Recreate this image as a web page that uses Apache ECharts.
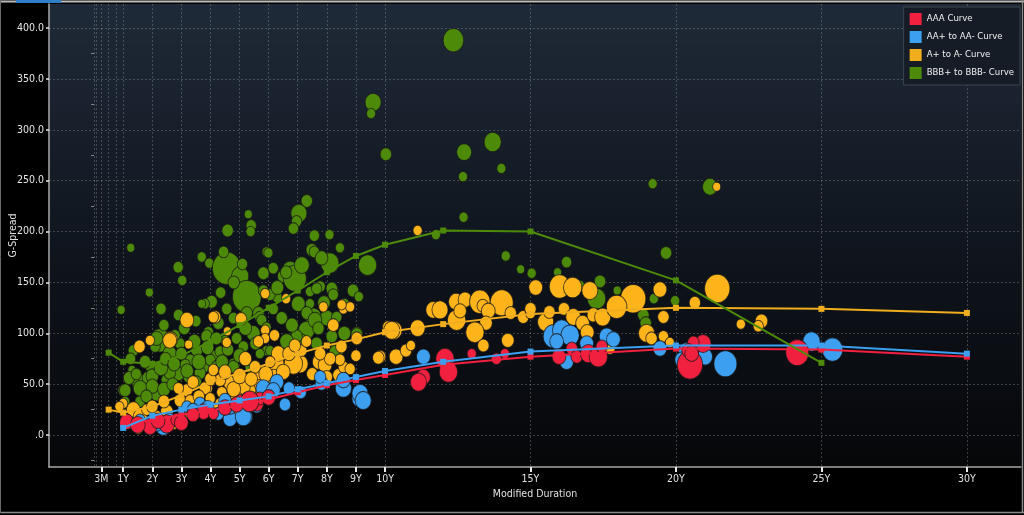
<!DOCTYPE html>
<html>
<head>
<meta charset="utf-8">
<script src="https://cdn.jsdelivr.net/npm/echarts@6/dist/echarts.min.js"></script>
<style>
  html, body { margin: 0; padding: 0; background: #000; }
  #chart { width: 1024px; height: 515px; }
</style>
</head>
<body>
<div id="chart"></div>
<script>
// curve tenors (years of modified duration)
const curveTenorsHi = [1, 2, 3, 4, 5, 6, 7, 8, 9, 10, 12, 15, 20, 25, 30]
const curveTenorsA = [0.5, 1, 2, 3, 4, 5, 6, 7, 8, 9, 10, 12, 15, 20, 25, 30]
const curveTenorsBBB = [0.5, 1, 2, 3, 4, 5, 6, 7, 8, 9, 10, 12, 15, 20, 25]

const aaaCurve = [10, 15, 20, 24, 29, 35, 42, 49, 54, 59, 69, 77, 85, 84, 77]
const aaCurve = [7, 19, 25, 30, 34, 38, 45, 51, 57, 63, 72, 82, 88, 88, 80]
const aCurve = [25, 22, 28, 39, 52, 61, 70, 80, 88, 94, 101, 109, 119, 125, 124, 120]
const bbbCurve = [81, 72, 70, 78, 92, 108, 125, 142, 160, 176, 187, 201, 200, 152, 71]

// bonds: [modified duration, g-spread, bubble weight]
const aaaBonds = [
  [12.06, 75, 16], [12.18, 62, 16], [11.32, 57, 12], [11.15, 52, 14], [12.98, 80, 8], [13.83, 75, 9],
  [14.12, 80, 8], [15.98, 77, 12], [16.42, 85, 10], [16.59, 77, 10], [16.99, 80, 14], [17.33, 77, 16],
  [17.45, 87, 10], [20.48, 69, 22], [20.93, 90, 14], [20.6, 91, 10], [20.42, 83, 11], [24.17, 81, 20],
  [20.54, 80, 12], [1.12, 13, 12], [1.92, 8, 12], [2.5, 11, 14], [2.84, 15, 10], [3.76, 23, 12],
  [4.1, 21, 9], [5.59, 31, 12], [5.7, 36, 10], [5.02, 34, 9],
  [1.5, 10, 13], [2.2, 14, 12], [3.0, 12, 12], [3.4, 20, 11], [4.5, 27, 12], [4.9, 30, 12],
  [5.35, 33, 16], [6.0, 37, 12]
]
const aaBonds = [
  [9.14, 36, 14], [8.57, 46, 14], [7.82, 51, 11], [6.56, 30, 10], [6.28, 52, 12], [5.82, 46, 13],
  [5.19, 18, 13], [4.67, 16, 12], [4.67, 28, 12], [4.27, 21, 10], [3.64, 31, 10], [3.19, 28, 9],
  [2.38, 8, 13], [2.15, 10, 10], [1.58, 15, 9], [1.3, 12, 9], [5.3, 31, 10], [6.05, 38, 10],
  [5.59, 28, 10], [5.13, 18, 14], [6.16, 44, 12], [7.77, 57, 10], [8.57, 54, 12], [9.14, 41, 14],
  [9.25, 34, 14], [11.32, 77, 12], [15.79, 97, 18], [16.07, 103, 16], [16.36, 98, 16], [15.9, 92, 12],
  [16.24, 72, 12], [16.93, 90, 12], [17.62, 97, 13], [17.85, 94, 12], [24.66, 92, 15], [25.38, 84, 18],
  [21.7, 70, 20], [21.0, 77, 13], [20.37, 82, 14], [19.45, 85, 12], [20.2, 74, 12],
  [2.6, 14, 12], [3.4, 25, 10], [3.9, 27, 11], [4.5, 34, 11], [6.7, 46, 10], [7.1, 42, 10]
]
const aBonds = [
  [11.12, 201, 8], [21.4, 244, 7], [15.18, 145, 12], [16.0, 146, 18], [16.45, 145, 16], [17.04, 142, 14],
  [18.53, 134, 22], [19.45, 143, 12], [19.57, 116, 10], [20.65, 130, 10], [21.42, 144, 22], [22.94, 112, 11],
  [22.83, 107, 9], [22.23, 109, 8], [10.31, 103, 14], [11.12, 105, 13], [10.38, 77, 12], [10.72, 83, 10],
  [10.89, 88, 8], [9.83, 77, 10], [11.66, 123, 13], [11.89, 123, 14], [12.44, 131, 13], [12.75, 133, 12],
  [13.26, 131, 18], [13.36, 127, 10], [14.01, 130, 20], [13.55, 122, 12], [12.46, 113, 16], [12.58, 122, 11],
  [13.47, 110, 11], [13.09, 101, 16], [13.38, 88, 10], [14.22, 93, 11], [14.32, 120, 10], [14.75, 116, 10],
  [15.0, 120, 9], [15.0, 124, 10], [15.52, 111, 14], [15.65, 121, 10], [16.15, 124, 10], [16.47, 116, 13],
  [16.79, 110, 12], [16.95, 101, 12], [17.16, 118, 11], [17.48, 116, 14], [17.96, 126, 18], [17.73, 85, 9],
  [18.99, 100, 14], [19.16, 95, 10], [19.57, 97, 9], [19.79, 91, 8],
  [5.88, 139, 8], [6.6, 134, 8], [5.05, 114, 10], [4.16, 116, 10], [7.88, 126, 8], [8.57, 124, 8],
  [8.8, 126, 8], [8.22, 108, 10], [4.56, 91, 8], [4.58, 102, 7], [5.88, 103, 8], [5.88, 95, 8],
  [5.65, 92, 9], [9.77, 76, 10], [10.11, 106, 10], [7.08, 70, 14], [7.74, 72, 12], [7.94, 69, 12],
  [8.0, 57, 10], [8.4, 59, 10], [8.57, 67, 9], [8.45, 74, 9], [8.11, 75, 10], [7.14, 83, 9],
  [8.5, 87, 10], [8.45, 47, 8], [7.77, 80, 10], [6.22, 69, 16], [6.33, 80, 12], [6.16, 57, 12],
  [5.7, 61, 12], [5.53, 67, 10], [6.05, 72, 9], [5.7, 47, 12], [5.36, 44, 10], [5.13, 47, 12],
  [4.67, 51, 11], [4.33, 54, 10], [4.39, 42, 9], [3.87, 46, 10], [5.25, 34, 12], [4.9, 36, 11],
  [4.79, 28, 9], [4.33, 31, 9], [3.87, 28, 10], [3.19, 113, 12], [4.1, 116, 9], [2.63, 94, 12],
  [1.56, 87, 10], [1.92, 93, 8], [3.25, 89, 7], [3.19, 44, 10], [2.95, 34, 10], [3.3, 34, 9],
  [3.81, 46, 10], [3.99, 36, 9], [2.5, 23, 11], [2.15, 18, 10], [1.35, 25, 12], [1.0, 31, 8],
  [1.58, 18, 12], [1.81, 25, 9], [1.52, 6, 8], [2.73, 11, 9], [2.27, 10, 9], [3.3, 21, 9],
  [3.64, 28, 10], [4.22, 25, 9], [4.9, 25, 9], [1.12, 15, 9], [0.87, 28, 8], [2.6, 93, 12],
  [10.23, 103, 14], [9.03, 95, 10], [8.51, 128, 8], [6.85, 70, 16],
  [3.6, 38, 10], [4.0, 55, 10], [4.5, 62, 11], [4.8, 45, 12], [5.0, 58, 12], [5.4, 55, 11],
  [5.9, 60, 12], [6.5, 62, 12], [6.7, 80, 11], [5.2, 75, 11], [4.1, 64, 9], [3.4, 52, 10],
  [2.9, 46, 9], [2.4, 33, 10], [2.0, 28, 10], [6.9, 88, 10], [7.5, 60, 10], [8.8, 65, 9],
  [9.0, 78, 9], [7.3, 92, 9], [6.2, 98, 9]
]
const bbbBonds = [
  [12.35, 388, 18], [9.59, 327, 14], [9.52, 316, 8], [10.03, 276, 10], [12.72, 278, 13], [13.7, 288, 15],
  [12.68, 254, 8], [14.0, 262, 8], [12.7, 214, 8], [19.2, 247, 8], [21.17, 244, 13], [9.4, 167, 16],
  [14.15, 176, 8], [19.66, 179, 10], [14.66, 163, 7], [15.04, 159, 8], [15.93, 160, 7], [16.24, 170, 9],
  [16.7, 147, 8], [17.39, 151, 10], [17.27, 134, 16], [17.98, 142, 7], [19.24, 134, 8], [18.63, 127, 8],
  [18.88, 118, 10], [18.96, 110, 10], [19.97, 132, 8], [11.75, 197, 8],
  [5.3, 217, 7], [5.4, 206, 9], [5.38, 200, 8], [4.59, 201, 10], [1.26, 184, 7], [3.7, 175, 8],
  [3.96, 169, 8], [4.56, 164, 25], [5.02, 156, 15], [2.89, 165, 9], [3.03, 152, 8], [5.93, 180, 8],
  [5.82, 159, 10], [5.25, 136, 25], [1.9, 140, 7], [0.93, 123, 7], [2.3, 124, 9], [4.04, 131, 10],
  [3.81, 129, 8], [4.56, 124, 9], [4.79, 115, 9], [5.25, 120, 10], [5.65, 120, 10], [3.93, 101, 9],
  [4.27, 110, 10], [4.5, 93, 8], [4.9, 95, 9], [2.27, 93, 18], [1.35, 83, 9], [2.1, 87, 9],
  [2.6, 80, 12], [2.95, 90, 9], [3.53, 83, 10], [4.1, 77, 10], [3.3, 74, 9], [2.9, 61, 12],
  [1.58, 51, 14], [1.0, 44, 9], [1.58, 33, 9], [2.15, 41, 12], [2.5, 54, 10], [3.76, 67, 10],
  [4.79, 70, 9], [1.92, 67, 8], [1.3, 64, 7], [3.7, 129, 7], [2.78, 98, 9], [2.15, 95, 11],
  [5.47, 100, 12], [5.7, 116, 9], [6.16, 124, 9], [6.28, 136, 9], [6.5, 156, 10], [6.74, 162, 14],
  [6.9, 154, 20], [7.14, 167, 13], [7.48, 182, 10], [7.77, 175, 10], [8.1, 169, 16], [8.9, 142, 10],
  [9.1, 136, 8], [8.22, 142, 9], [7.77, 146, 9], [7.42, 141, 8], [6.96, 128, 9], [7.54, 116, 14],
  [8.0, 115, 12], [8.34, 116, 9], [7.3, 103, 14], [7.14, 93, 10], [6.62, 93, 10], [8.17, 97, 10],
  [9.03, 100, 10], [8.34, 83, 12], [5.93, 83, 8], [6.28, 83, 7], [4.33, 82, 9], [1.87, 56, 11],
  [1.58, 46, 12], [1.07, 44, 10], [1.07, 33, 8], [2.6, 61, 10], [3.24, 57, 9], [3.64, 61, 10],
  [3.13, 69, 9], [7.31, 230, 10], [7.04, 218, 14], [6.96, 210, 9], [6.85, 203, 9], [5.99, 179, 8],
  [7.57, 196, 9], [8.09, 197, 8], [8.45, 184, 8], [7.57, 180, 9], [7.82, 174, 11], [6.6, 160, 10],
  [6.16, 164, 9], [7.65, 144, 9], [8.17, 144, 10], [8.22, 138, 9], [7.42, 129, 8], [7.02, 129, 12],
  [7.31, 120, 10], [7.59, 113, 12], [7.71, 105, 10], [6.96, 97, 10], [6.62, 92, 12], [7.65, 90, 10],
  [8.28, 82, 10], [9.03, 99, 10], [6.05, 83, 8], [5.7, 80, 8], [5.13, 87, 9], [3.87, 97, 10],
  [3.99, 74, 9], [4.22, 67, 10], [4.79, 67, 10], [5.36, 67, 9], [5.82, 142, 9], [6.05, 138, 9],
  [5.76, 113, 9], [5.93, 106, 8],
  [1.2, 56, 10], [1.45, 60, 9], [1.75, 72, 10], [2.0, 58, 11], [2.3, 66, 12], [2.45, 75, 10],
  [2.75, 70, 11], [3.0, 80, 10], [3.2, 63, 11], [3.45, 92, 11], [3.6, 72, 12], [3.9, 86, 11],
  [4.2, 95, 10], [4.4, 72, 11], [4.6, 84, 10], [5.0, 78, 11], [5.2, 105, 11], [5.55, 90, 10],
  [2.0, 48, 11], [1.8, 38, 10], [2.4, 45, 11], [2.7, 50, 10], [3.5, 52, 10], [1.25, 75, 9],
  [3.1, 105, 10], [2.4, 108, 9], [2.9, 118, 9], [3.5, 112, 9], [4.35, 140, 9], [4.8, 150, 10],
  [4.45, 180, 9], [5.1, 168, 9], [6.3, 145, 11], [6.45, 115, 10], [6.8, 108, 11], [7.9, 130, 11],
  [8.6, 128, 10], [8.6, 100, 11]
]

// axis ticks
const xLabelTicks = [0.25, 1, 2, 3, 4, 5, 6, 7, 8, 9, 10, 15, 20, 25, 30]
const xGridTicks = [0, 1 / 12, 0.25, 0.5, 0.75, 1, 2, 3, 4, 5, 6, 7, 8, 9, 10, 15, 20, 25, 30]
const yLabelTicks = [0, 50, 100, 150, 200, 250, 300, 350, 400]
const yMinorTicks = [-25, 25, 75, 125, 175, 225, 275, 325, 375]

const FONT = '"Liberation Sans Narrow", "DejaVu Sans Condensed", "Roboto", sans-serif'
const colors = { AAA: '#f2203f', AA: '#3d9ff0', A: '#fdb41b', BBB: '#4e8a0a' }

const chart = echarts.init(document.getElementById('chart'), null, { renderer: 'canvas' })

const bubbles = (name, data, color, z) => ({
    name,
    type: 'scatter',
    data,
    z,
    silent: true,
    symbolSize: v => [v[2] * 1.15, v[2] * 1.3],
    itemStyle: { color, borderColor: 'rgba(25,25,25,0.75)', borderWidth: 1, opacity: 1 }
})

const curve = (name, tenors, values, color) => ({
    name,
    type: 'line',
    data: tenors.map((t, i) => [t, values[i]]),
    z: 10,
    silent: true,
    symbol: 'rect',
    symbolSize: 6,
    lineStyle: { color, width: 2 },
    itemStyle: { color }
})

const dashed = { show: true, lineStyle: { color: 'rgba(160,160,160,0.35)', type: [2, 2], width: 1 } }

const option = {
    backgroundColor: '#000',
    animation: false,
    textStyle: { fontFamily: FONT },
    grid: {
        left: 49, right: 3, top: 4, bottom: 48,
        outerBoundsMode: 'none',
        containLabel: false,
        show: true, borderWidth: 0,
        backgroundColor: new echarts.graphic.LinearGradient(0, 0, 0, 1, [
            { offset: 0, color: '#1f2a38' },
            { offset: 0.5, color: '#10161f' },
            { offset: 1, color: '#060709' }
        ])
    },
    legend: {
        data: ['AAA Curve', 'AA+ to AA- Curve', 'A+ to A- Curve', 'BBB+ to BBB- Curve'],
        orient: 'vertical',
        right: 4, top: 7,
        icon: 'rect',
        itemWidth: 12, itemHeight: 12, itemGap: 6,
        padding: [6, 6, 6, 6],
        backgroundColor: '#151c26',
        borderColor: '#3b4550', borderWidth: 1,
        textStyle: { color: '#f0f0f0', fontSize: 9.5, fontFamily: FONT },
        selectedMode: false
    },
    xAxis: [{
        type: 'value', min: -1.55, max: 31.86,
        name: 'Modified Duration', nameLocation: 'middle', nameGap: 22, nameMoveOverlap: false,
        nameTextStyle: { color: '#e0e0e0', fontSize: 10.5, fontFamily: FONT },
        axisLine: { show: true, onZero: false, lineStyle: { color: '#a8a8a8', width: 1.5 } },
        axisTick: { show: true, customValues: xLabelTicks, length: 5, lineStyle: { color: '#e8e8e8', width: 2 } },
        axisLabel: {
            customValues: xLabelTicks, color: '#e0e0e0', fontSize: 10.5, margin: 7,
            formatter: v => v < 1 ? '3M' : v + 'Y'
        },
        splitLine: { show: false }
    }, {
        type: 'value', min: -1.55, max: 31.86, position: 'bottom',
        axisLine: { show: false },
        axisTick: { show: false, customValues: xGridTicks },
        axisLabel: { show: false },
        splitLine: dashed
    }],
    yAxis: [{
        type: 'value', min: -31.4, max: 423.6,
        name: 'G-Spread', nameLocation: 'middle', nameGap: 30, nameRotate: 90, nameMoveOverlap: false,
        nameTextStyle: { color: '#e0e0e0', fontSize: 10.5, fontFamily: FONT },
        axisLine: { show: true, onZero: false, lineStyle: { color: '#a8a8a8', width: 1.5 } },
        axisTick: { show: true, customValues: yLabelTicks, length: 3, lineStyle: { color: '#e8e8e8', width: 1.5 } },
        axisLabel: {
            customValues: yLabelTicks, color: '#e6e6e6', fontSize: 10.5, margin: 5,
            formatter: v => v === 0 ? '.0' : v.toFixed(1)
        },
        splitLine: dashed
    }, {
        type: 'value', min: -31.4, max: 423.6, position: 'left',
        axisLine: { show: false },
        axisTick: { show: true, customValues: yMinorTicks, length: 3, lineStyle: { color: '#888', width: 1 } },
        axisLabel: { show: false },
        splitLine: { show: false }
    }],
    graphic: [
        { type: 'line', shape: { x1: 0, y1: 1.5, x2: 1024, y2: 1.5 }, style: { stroke: '#bdbdbd', lineWidth: 2 }, z: 100 },
        { type: 'rect', shape: { x: 16, y: 0, width: 45, height: 3 }, style: { fill: '#2f7fc8' }, z: 101 },
        { type: 'line', shape: { x1: 0, y1: 512.5, x2: 1024, y2: 512.5 }, style: { stroke: '#8a8a8a', lineWidth: 1.5 }, z: 100 },
        { type: 'line', shape: { x1: 1022.5, y1: 0, x2: 1022.5, y2: 513 }, style: { stroke: '#8a8a8a', lineWidth: 1.5 }, z: 100 },
        { type: 'line', shape: { x1: 0.5, y1: 0, x2: 0.5, y2: 513 }, style: { stroke: '#6a6a6a', lineWidth: 1 }, z: 100 }
    ],
    series: [
        bubbles('BBB+ to BBB-', bbbBonds, colors.BBB, 2),
        bubbles('A+ to A-', aBonds, colors.A, 3),
        bubbles('AA+ to AA-', aaBonds, colors.AA, 4),
        bubbles('AAA', aaaBonds, colors.AAA, 5),
        curve('AAA Curve', curveTenorsHi, aaaCurve, colors.AAA),
        curve('AA+ to AA- Curve', curveTenorsHi, aaCurve, colors.AA),
        curve('A+ to A- Curve', curveTenorsA, aCurve, '#f0ad1e'),
        curve('BBB+ to BBB- Curve', curveTenorsBBB, bbbCurve, colors.BBB)
    ]
}

chart.setOption(option)
</script>
</body>
</html>
